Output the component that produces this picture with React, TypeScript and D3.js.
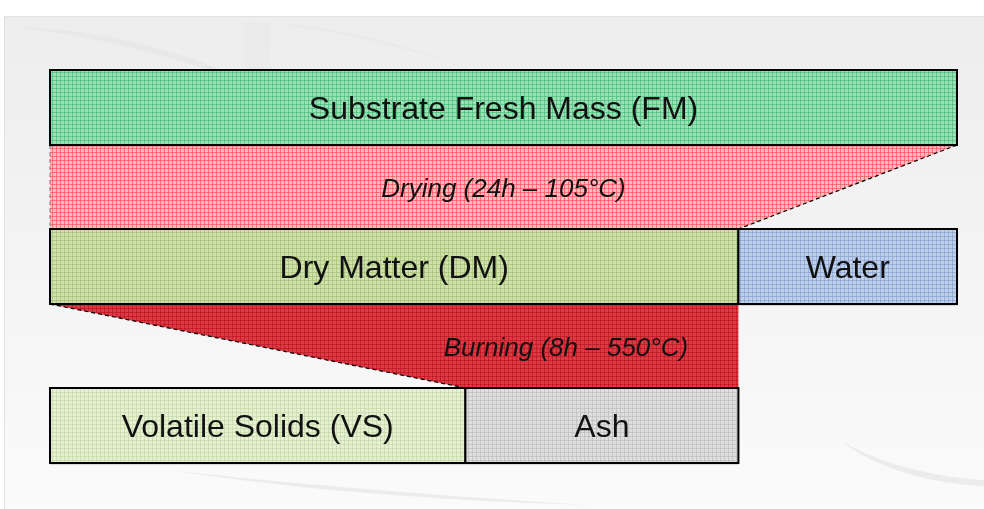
import React from "react";
import * as d3 from "d3";

const barLabels = ["Substrate Fresh Mass (FM)", "Dry Matter (DM)", "Water", "Volatile Solids (VS)", "Ash"];
const freshMass = [100];
const dryWater = [75.9, 24.1];
const vsAsh = [45.8, 30.1];
const processLabels = ["Drying (24h – 105°C)", "Burning (8h – 550°C)"];

const W = 984, H = 509;
const x = d3.scaleLinear().domain([0, 100]).range([50, 957]);
const rows = [70, 229, 388];
const barH = 75;

const pats = [
  { id: "pFM", base: "#9de0b6", line: "#3fb874" },
  { id: "pDry", base: "#fbbcc0", line: "#f04850" },
  { id: "pDM", base: "#d0e0ac", line: "#9dbc6c" },
  { id: "pW", base: "#c0d0ea", line: "#7f9ccc" },
  { id: "pBurn", base: "#dc3a44", line: "#b8101c" },
  { id: "pVS", base: "#e6f0d2", line: "#c2d6a0" },
  { id: "pAsh", base: "#dedede", line: "#b8b8b8" },
];

export default function App() {
  const dmEnd = x(dryWater[0]);
  const vsEnd = x(vsAsh[0]);
  const ashEnd = x(vsAsh[0] + vsAsh[1]);
  const fmEnd = x(freshMass[0]);
  const x0 = x(0);
  const font = "Arial, 'Liberation Sans', sans-serif";
  const dryPath = d3.path();
  dryPath.moveTo(x0, rows[0] + barH);
  dryPath.lineTo(fmEnd, rows[0] + barH);
  dryPath.lineTo(dmEnd, rows[1]);
  dryPath.lineTo(x0, rows[1]);
  dryPath.closePath();
  const burnPath = d3.path();
  burnPath.moveTo(x0, rows[1] + barH);
  burnPath.lineTo(dmEnd, rows[1] + barH);
  burnPath.lineTo(dmEnd, rows[2]);
  burnPath.lineTo(vsEnd, rows[2]);
  burnPath.closePath();

  const bar = (x1: number, x2: number, y: number, pat: string, label: string, key: string) => (
    <g key={key}>
      <rect x={x1} y={y + 2} width={x2 - x1} height={barH} fill="#000" opacity={0.12} />
      <rect x={x1} y={y} width={x2 - x1} height={barH} fill={`url(#${pat})`} stroke="#000" strokeWidth={2} />
      <text x={(x1 + x2) / 2} y={y + barH / 2 + 11} textAnchor="middle" fontSize={32} fontFamily={font} fill="#111">{label}</text>
    </g>
  );

  return (
    <svg width={W} height={H} style={{ position: "absolute", left: 0, top: 0 }}>
      <defs>
        <linearGradient id="bg" x1="0" y1="0" x2="0" y2="1">
          <stop offset="0" stopColor="#ededed" />
          <stop offset="0.5" stopColor="#f4f4f4" />
          <stop offset="1" stopColor="#fbfbfb" />
        </linearGradient>
        {pats.map((p) => (
          <pattern key={p.id} id={p.id} width={4} height={4} patternUnits="userSpaceOnUse">
            <rect width={4} height={4} fill={p.base} />
            <rect width={1} height={4} fill={p.line} opacity={0.6} />
            <rect width={4} height={1} fill={p.line} opacity={0.6} />
          </pattern>
        ))}
      </defs>
      <rect x={0} y={0} width={W} height={H} fill="#fff" />
      <rect x={4.5} y={16.5} width={W} height={H} fill="url(#bg)" stroke="#e2e2e2" />
      <g fill="#e6e6e6" opacity={0.7}>
        <path d="M18,27 C120,30 220,60 300,110 C230,70 120,40 18,27 Z" />
        <path d="M243,23 L270,23 L272,110 L245,110 Z" opacity={0.5} />
        <path d="M270,23 C380,30 480,70 560,110 C470,65 380,35 270,23 Z" />
        <path d="M170,470 C300,490 430,500 590,505 C430,495 300,485 170,470 Z" />
        <path d="M840,440 C880,465 940,478 984,480 L984,486 C930,484 875,468 840,440 Z" />
      </g>
      {/* Drying trapezoid */}
      <path d={dryPath.toString()} fill="url(#pDry)" />
      <line x1={fmEnd} y1={rows[0] + barH} x2={dmEnd} y2={rows[1]} stroke="#000" strokeDasharray="4,3" strokeWidth={1.2} />
      <line x1={x0} y1={rows[0] + barH} x2={x0} y2={rows[1]} stroke="#777" strokeDasharray="4,3" strokeWidth={1} />
      <text x={(x0 + fmEnd) / 2} y={197} textAnchor="middle" fontSize={26} fontStyle="italic" fontFamily={font} fill="#111">{processLabels[0]}</text>
      {/* Burning trapezoid */}
      <path d={burnPath.toString()} fill="url(#pBurn)" />
      <line x1={x0} y1={rows[1] + barH} x2={vsEnd} y2={rows[2]} stroke="#000" strokeDasharray="4,3" strokeWidth={1.2} />
      <text x={(vsEnd + dmEnd) / 2 - 36} y={356} textAnchor="middle" fontSize={26} fontStyle="italic" fontFamily={font} fill="#111">{processLabels[1]}</text>
      {bar(x0, fmEnd, rows[0], "pFM", barLabels[0], "fm")}
      {bar(x0, dmEnd, rows[1], "pDM", barLabels[1], "dm")}
      {bar(dmEnd, fmEnd, rows[1], "pW", barLabels[2], "w")}
      {bar(x0, vsEnd, rows[2], "pVS", barLabels[3], "vs")}
      {bar(vsEnd, ashEnd, rows[2], "pAsh", barLabels[4], "ash")}
    </svg>
  );
}
